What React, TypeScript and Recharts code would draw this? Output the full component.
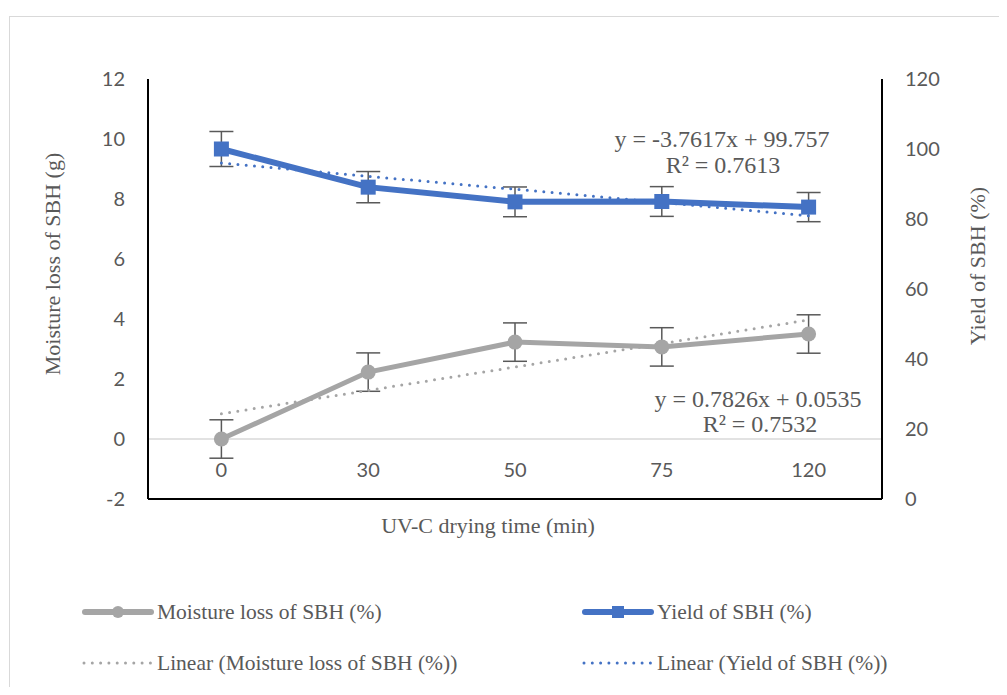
import React from "react";
import {
  ComposedChart,
  Line,
  XAxis,
  YAxis,
  ErrorBar,
  ReferenceLine,
  Legend,
  Customized,
} from "recharts";

const categories = ["0", "30", "50", "75", "120"];
const moistureLoss = [0, 2.23, 3.23, 3.07, 3.5];
const moistureErr = [0.64, 0.64, 0.64, 0.64, 0.64];
const yieldPct = [100, 89.1, 84.9, 85.0, 83.4];
const yieldErr = [5.0, 4.46, 4.25, 4.25, 4.17];
const moistureTrend = [0.84, 1.62, 2.4, 3.18, 3.97];
const yieldTrend = [96.0, 92.2, 88.5, 84.7, 80.9];
const leftTicks = [-2, 0, 2, 4, 6, 8, 10, 12];
const rightTicks = [0, 20, 40, 60, 80, 100, 120];

const data = categories.map((c, i) => ({
  cat: c,
  moist: moistureLoss[i],
  moistErr: moistureErr[i],
  yld: yieldPct[i],
  yldErr: yieldErr[i],
  moistTrend: moistureTrend[i],
  yldTrend: yieldTrend[i],
}));

const GRAY = "#A5A5A5";
const BLUE = "#4472C4";
const TXT = "#595959";
const SERIF = "'Liberation Serif', 'Times New Roman', serif";
const SANS = "Lato, 'Open Sans', sans-serif";

const SquareDot = (props: any) => {
  const { cx, cy } = props;
  if (cx == null || cy == null) return null;
  return <rect x={cx - 7.5} y={cy - 7.5} width={15} height={15} fill={BLUE} />;
};

const XTick = (props: any) => {
  const { x, y, payload } = props;
  return (
    <text x={x} y={y - 22} textAnchor="middle" fill={TXT} fontSize={20} fontFamily={SANS}>
      {payload.value}
    </text>
  );
};

const Equations = () => (
  <g fontFamily={SERIF} fontSize={24} fill={TXT} textAnchor="middle">
    <text x={714} y={139}>y = -3.7617x + 99.757</text>
    <text x={715} y={165}>R² = 0.7613</text>
    <text x={750} y={399}>y = 0.7826x + 0.0535</text>
    <text x={752} y={424}>R² = 0.7532</text>
  </g>
);

const legendItems = [
  { label: "Moisture loss of SBH (%)", color: GRAY, kind: "circle", left: 74, top: 604 },
  { label: "Yield of SBH (%)", color: BLUE, kind: "square", left: 574, top: 604 },
  { label: "Linear (Moisture loss of SBH (%))", color: GRAY, kind: "dot", left: 74, top: 655 },
  { label: "Linear (Yield of SBH (%))", color: BLUE, kind: "dot", left: 574, top: 655 },
];

const LegendContent = () => (
  <div style={{ position: "relative", width: 991, height: 90 }}>
    {legendItems.map((it) => (
      <div
        key={it.label}
        style={{
          position: "absolute",
          left: it.left,
          top: it.top - 590 - 14,
          height: 28,
          display: "flex",
          alignItems: "center",
          whiteSpace: "nowrap",
        }}
      >
        <svg width={72} height={20} style={{ display: "block" }}>
          {it.kind === "dot" ? (
            <line x1={2} y1={10} x2={70} y2={10} stroke={it.color} strokeWidth={3} strokeLinecap="round" strokeDasharray="0 8.3" />
          ) : (
            <line x1={3} y1={10} x2={69} y2={10} stroke={it.color} strokeWidth={6} strokeLinecap="round" />
          )}
          {it.kind === "circle" && <circle cx={36} cy={10} r={6} fill={it.color} />}
          {it.kind === "square" && <rect x={30} y={4} width={12} height={12} fill={it.color} />}
        </svg>
        <span style={{ fontFamily: SERIF, fontSize: 21.5, color: TXT, marginLeft: 3 }}>{it.label}</span>
      </div>
    ))}
  </div>
);

export default function App() {
  return (
    <div style={{ position: "relative", width: 991, height: 679, overflow: "hidden", background: "#fff" }}>
      <div
        style={{
          position: "absolute",
          left: 1,
          top: 8,
          width: 1100,
          height: 900,
          border: "1.5px solid #D9D9D9",
          boxSizing: "border-box",
        }}
      />
      <div style={{ position: "absolute", left: 0, top: 0 }}>
        <ComposedChart width={991} height={679} data={data} margin={{ top: 71, left: 80, right: 57, bottom: 158 }}>
          <XAxis
            dataKey="cat"
            xAxisId="bottom"
            scale="band"
            height={30}
            axisLine={{ stroke: "#000", strokeWidth: 2 }}
            tickLine={false}
            tickSize={0}
            tickMargin={0}
            tick={<XTick />}
            label={() => (
              <text x={480} y={525} textAnchor="middle" fill={TXT} fontSize={22} fontFamily={SERIF}>
                UV-C drying time (min)
              </text>
            )}
          />
          <XAxis
            dataKey="cat"
            xAxisId="top"
            orientation="top"
            scale="band"
            height={0}
            axisLine={{ stroke: "#000", strokeWidth: 2 }}
            tick={false}
            tickLine={false}
          />
          <YAxis
            yAxisId="left"
            domain={[-2, 12]}
            ticks={leftTicks}
            interval={0}
            width={60}
            axisLine={{ stroke: "#000", strokeWidth: 2 }}
            tickLine={false}
            tickSize={0}
            tickMargin={23}
            tick={{ fill: TXT, fontSize: 20, fontFamily: SANS }}
            label={() => (
              <text
                x={44}
                y={256}
                transform="rotate(-90 44 256)"
                textAnchor="middle"
                dominantBaseline="central"
                fill={TXT}
                fontSize={22}
                fontFamily={SERIF}
              >
                Moisture loss of SBH (g)
              </text>
            )}
          />
          <YAxis
            yAxisId="right"
            orientation="right"
            domain={[0, 120]}
            ticks={rightTicks}
            interval={0}
            width={60}
            axisLine={{ stroke: "#000", strokeWidth: 2 }}
            tickLine={false}
            tickSize={0}
            tickMargin={23}
            tick={{ fill: TXT, fontSize: 20, fontFamily: SANS, textAnchor: "start" }}
            label={() => (
              <text
                x={969}
                y={258}
                transform="rotate(-90 969 258)"
                textAnchor="middle"
                dominantBaseline="central"
                fill={TXT}
                fontSize={22}
                fontFamily={SERIF}
              >
                Yield of SBH (%)
              </text>
            )}
          />
          <ReferenceLine y={0} yAxisId="left" xAxisId="bottom" stroke="#D9D9D9" strokeWidth={1.5} />
          <Line
            xAxisId="bottom"
            yAxisId="left"
            dataKey="moist"
            stroke={GRAY}
            strokeWidth={5}
            dot={{ r: 7.5, fill: GRAY, stroke: "none" }}
            activeDot={false}
            isAnimationActive={false}
          >
            <ErrorBar dataKey="moistErr" width={12} stroke="#595959" strokeWidth={1.5} direction="y" />
          </Line>
          <Line
            xAxisId="bottom"
            yAxisId="right"
            dataKey="yld"
            stroke={BLUE}
            strokeWidth={6}
            dot={<SquareDot />}
            activeDot={false}
            isAnimationActive={false}
          >
            <ErrorBar dataKey="yldErr" width={12} stroke="#595959" strokeWidth={1.5} direction="y" />
          </Line>
          <Line
            xAxisId="bottom"
            yAxisId="left"
            dataKey="moistTrend"
            stroke={GRAY}
            strokeWidth={3}
            strokeLinecap="round"
            strokeDasharray="0 8.3"
            dot={false}
            activeDot={false}
            isAnimationActive={false}
          />
          <Line
            xAxisId="bottom"
            yAxisId="right"
            dataKey="yldTrend"
            stroke={BLUE}
            strokeWidth={3}
            strokeLinecap="round"
            strokeDasharray="0 8.3"
            dot={false}
            activeDot={false}
            isAnimationActive={false}
          />
          <Customized component={<Equations />} />
          <Legend
            layout="horizontal"
            verticalAlign="middle"
            align="center"
            content={<LegendContent />}
            wrapperStyle={{ top: 590, left: 0, width: 991 }}
          />
        </ComposedChart>
      </div>
    </div>
  );
}
